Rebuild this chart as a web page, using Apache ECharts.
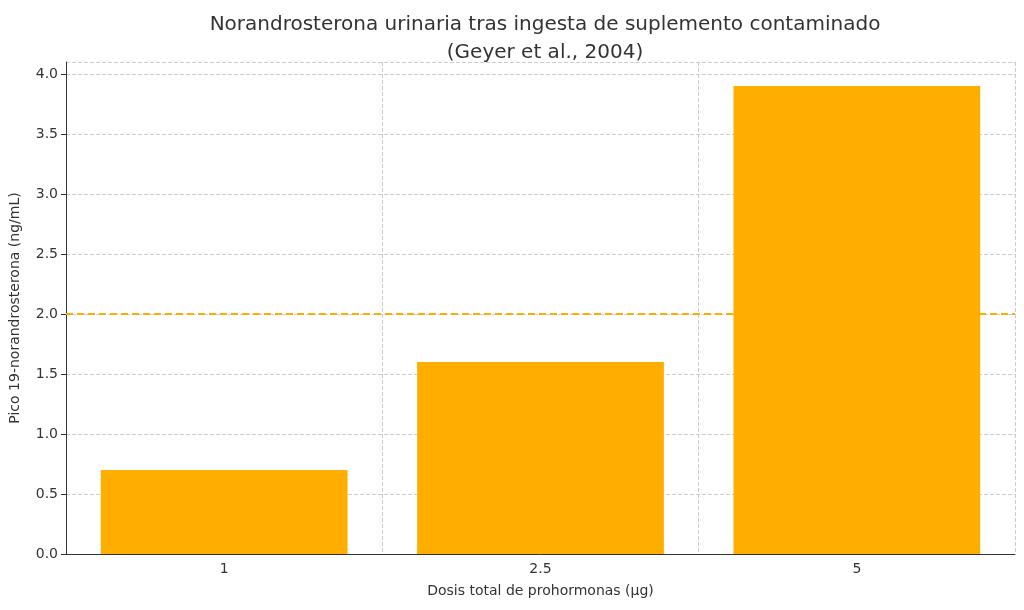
<!DOCTYPE html>
<html><head><meta charset="utf-8">
<script src="https://cdn.jsdelivr.net/npm/echarts@6/dist/echarts.min.js"></script>
<style>html,body{margin:0;padding:0;background:#fff}#c{width:1024px;height:610px}</style>
</head><body><div id="c"></div>
<script>
const categories = ['1', '2.5', '5'];
const values = [0.7, 1.6, 3.9];
const threshold = 2.0;
const chart = echarts.init(document.getElementById('c'));
const font = 'DejaVu Sans';
chart.setOption({
  animation: false,
  textStyle: {fontFamily: font},
  title: {text: 'Norandrosterona urinaria tras ingesta de suplemento contaminado\n(Geyer et al., 2004)',
    left: 540, top: 6, textAlign: 'center',
    textStyle: {fontFamily: font, fontSize: 20, fontWeight: 'normal', color: '#333', lineHeight: 28}},
  grid: {left: 66, right: 9, top: 62, bottom: 56},
  xAxis: {type: 'category', data: categories, boundaryGap: true,
    name: 'Dosis total de prohormonas (µg)', nameLocation: 'middle', nameGap: 30,
    nameTextStyle: {fontSize: 14, color: '#333'},
    axisLine: {lineStyle: {color: '#333'}}, axisTick: {alignWithLabel: true, lineStyle: {color: '#333'}},
    axisLabel: {fontSize: 14, color: '#333'},
    splitLine: {show: true, lineStyle: {type: 'dashed', color: '#ccc'}}},
  yAxis: {type: 'value', min: 0, max: 4.1, interval: 0.5,
    name: 'Pico 19-norandrosterona (ng/mL)', nameLocation: 'middle', nameGap: 44,
    nameTextStyle: {fontSize: 14, color: '#333'},
    axisLine: {show: true, lineStyle: {color: '#333'}}, axisTick: {show: true, lineStyle: {color: '#333'}},
    axisLabel: {fontSize: 14, color: '#333', formatter: v => v.toFixed(1)},
    splitLine: {show: true, lineStyle: {type: 'dashed', color: '#ccc'}}},
  series: [{type: 'bar', data: values, barWidth: '78%', itemStyle: {color: '#FFAE00'},
    markLine: {symbol: 'none', silent: true, label: {show: false},
      lineStyle: {type: [7, 4], color: '#FFAE00', width: 1.8},
      data: [{yAxis: threshold}]}}]
});
</script></body></html>
